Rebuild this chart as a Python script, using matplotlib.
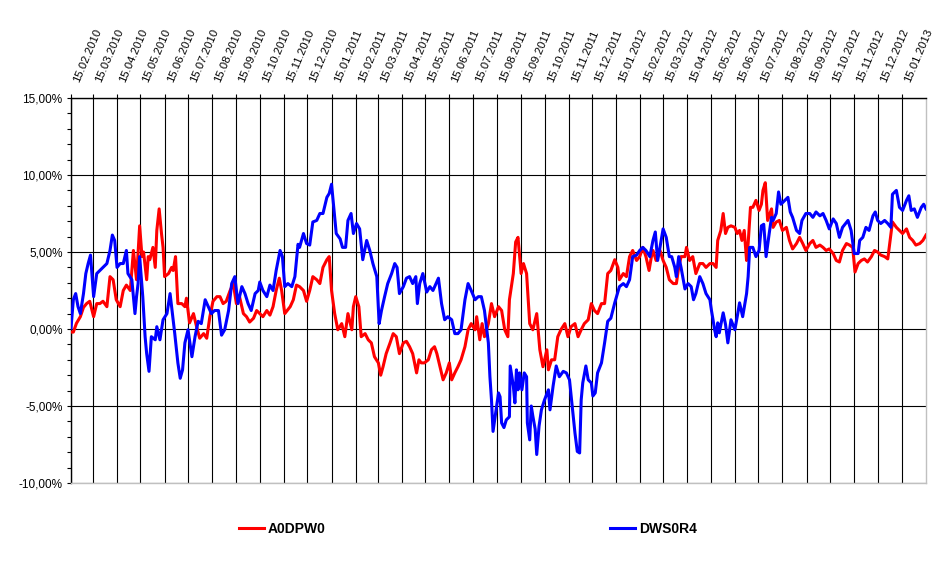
import numpy as np
import pandas as pd
import matplotlib
matplotlib.use("Agg")
import matplotlib.pyplot as plt
import matplotlib.dates as mdates
from matplotlib.ticker import FixedLocator, FuncFormatter, MultipleLocator, NullFormatter
from matplotlib.transforms import ScaledTranslation

plt.rcParams['font.family'] = ['Liberation Sans', 'DejaVu Sans']

# Tage seit 15.02.2010 und Wertentwicklung in %
start = pd.Timestamp('2010-02-15')

red_days = [0, 3, 7, 12, 16, 20, 24, 29, 33, 37, 41, 46, 50, 54, 58, 63, 67, 71, 76, 80,
            84, 88, 91, 93, 97, 99, 101, 105, 108, 110, 113, 116, 118, 120, 125, 129, 131, 134, 137, 142,
            146, 148, 152, 157, 161, 165, 170, 174, 178, 182, 187, 191, 195, 199, 204, 208, 212, 216, 221, 225,
            229, 234, 238, 242, 246, 251, 255, 259, 263, 267, 270, 274, 281, 285, 289, 293, 298, 302, 306, 310,
            315, 319, 323, 328, 331, 334, 338, 342, 347, 351, 355, 360, 362, 365, 369, 372, 377, 381, 385, 389,
            394, 397, 400, 404, 409, 413, 417, 421, 426, 430, 434, 438, 443, 446, 449, 453, 458, 462, 466, 469,
            473, 477, 481, 485, 488, 492, 496, 500, 505, 509, 513, 518, 520, 524, 527, 530, 535, 539, 543, 548,
            552, 556, 560, 562, 567, 570, 573, 577, 580, 584, 588, 592, 597, 601, 605, 610, 612, 616, 620, 624,
            628, 633, 637, 641, 646, 650, 654, 658, 663, 667, 671, 675, 680, 684, 688, 692, 697, 701, 703, 708,
            712, 716, 720, 725, 729, 733, 737, 741, 744, 746, 750, 755, 759, 763, 767, 772, 776, 779, 782, 787,
            789, 793, 797, 801, 806, 810, 814, 819, 823, 827, 829, 833, 836, 839, 842, 846, 851, 854, 857, 860,
            863, 866, 868, 871, 874, 878, 882, 885, 887, 890, 893, 898, 900, 904, 908, 912, 917, 921, 925, 930,
            934, 938, 942, 947, 951, 955, 960, 964, 968, 972, 977, 981, 985, 989, 994, 998, 1002, 1005, 1009, 1013,
            1017, 1021, 1026, 1030, 1034, 1038, 1043, 1047, 1050, 1053, 1058, 1062, 1066, 1071, 1075, 1079, 1083, 1088, 1092, 1096]
red_vals = [-0.2, -0.2, 0.37, 0.8, 1.4, 1.65, 1.8, 0.8, 1.65, 1.65, 1.8, 1.45, 3.4, 3.2, 1.9, 1.45, 2.5, 2.85, 2.5, 5.1,
            3.2, 6.7, 4.7, 5.0, 3.2, 4.7, 4.5, 5.3, 4.0, 6.4, 7.8, 6.2, 5.3, 3.4, 3.6, 4.0, 3.8, 4.7, 1.65, 1.65,
            1.45, 2.0, 0.4, 1.0, 0.15, -0.6, -0.3, -0.6, 0.8, 1.8, 2.1, 2.1, 1.65, 1.8, 2.5, 2.95, 1.65, 2.1, 1.0, 0.8,
            0.45, 0.7, 1.2, 1.0, 0.8, 1.2, 0.9, 1.45, 2.5, 3.3, 2.5, 1.0, 1.45, 1.9, 2.85, 2.75, 2.5, 1.8, 2.5, 3.4,
            3.2, 2.95, 4.0, 4.5, 4.7, 2.5, 1.0, -0.05, 0.35, -0.5, 1.0, -0.05, 1.45, 2.1, 1.45, -0.5, -0.3, -0.7, -0.9, -1.8,
            -2.2, -3.0, -2.45, -1.6, -0.9, -0.3, -0.5, -1.6, -0.9, -0.8, -1.15, -1.6, -2.85, -2.0, -2.2, -2.2, -2.0, -1.35, -1.15, -1.6,
            -2.45, -3.3, -2.85, -2.2, -3.3, -2.85, -2.45, -2.0, -1.15, -0.05, 0.35, -0.05, 0.8, -0.7, 0.35, -0.5, 0.35, 1.65, 0.8, 1.45,
            1.2, -0.05, -0.5, 1.9, 3.6, 5.65, 5.95, 3.6, 4.25, 3.6, 0.35, -0.05, 1.0, -1.35, -2.45, -1.35, -2.65, -2.0, -2.0, -0.5,
            -0.05, 0.35, -0.5, 0.15, 0.35, -0.5, -0.05, 0.35, 0.6, 1.65, 1.2, 1.0, 1.65, 1.65, 3.6, 3.8, 4.5, 4.0, 3.2, 3.6,
            3.4, 4.7, 5.1, 4.45, 4.7, 5.3, 4.7, 3.8, 4.7, 5.1, 4.45, 5.1, 4.45, 4.0, 3.2, 2.95, 2.95, 4.0, 4.7, 4.7,
            5.3, 4.45, 4.7, 3.6, 4.25, 4.25, 4.0, 4.25, 4.25, 4.0, 5.75, 6.4, 7.5, 6.2, 6.6, 6.7, 6.6, 6.2, 6.4, 5.75,
            6.4, 4.45, 5.55, 7.9, 7.9, 8.35, 7.7, 8.1, 9.0, 9.5, 7.05, 7.8, 6.6, 6.95, 7.05, 6.4, 6.6, 5.75, 5.2, 5.55,
            5.95, 5.55, 5.1, 5.55, 5.75, 5.3, 5.45, 5.3, 5.1, 5.2, 4.9, 4.45, 4.35, 5.1, 5.55, 5.45, 5.3, 3.7, 4.25, 4.45,
            4.55, 4.35, 4.7, 5.1, 5.0, 4.8, 4.7, 4.55, 5.75, 6.95, 6.6, 6.4, 6.2, 6.5, 5.95, 5.75, 5.45, 5.55, 5.75, 6.1]

blue_days = [0, 3, 6, 9, 12, 16, 19, 22, 25, 29, 33, 37, 41, 46, 50, 53, 56, 59, 63, 67,
             71, 73, 78, 82, 84, 86, 88, 92, 95, 97, 100, 103, 108, 110, 114, 118, 123, 127, 130, 133,
             137, 140, 143, 146, 150, 155, 159, 163, 167, 172, 176, 180, 184, 189, 193, 197, 202, 206, 210, 214,
             219, 223, 227, 231, 236, 240, 242, 246, 251, 255, 259, 263, 268, 271, 274, 278, 283, 287, 291, 293,
             298, 302, 306, 310, 315, 319, 323, 328, 331, 334, 338, 340, 345, 348, 352, 355, 359, 362, 366, 370,
             374, 379, 383, 387, 392, 395, 398, 402, 406, 411, 415, 418, 421, 426, 430, 434, 438, 442, 444, 447,
             451, 456, 460, 464, 468, 471, 475, 479, 483, 488, 492, 496, 500, 505, 509, 513, 518, 522, 526, 530,
             535, 537, 539, 541, 545, 548, 550, 552, 555, 558, 562, 563, 567, 569, 571, 573, 575, 578, 581, 584,
             585, 588, 590, 592, 595, 597, 600, 603, 607, 612, 614, 618, 622, 626, 631, 635, 639, 643, 646, 649,
             652, 654, 656, 660, 663, 667, 669, 672, 675, 680, 684, 688, 692, 697, 703, 708, 712, 716, 720, 725,
             729, 733, 737, 742, 746, 749, 752, 755, 759, 763, 767, 770, 774, 776, 779, 782, 787, 791, 795, 798,
             801, 806, 810, 814, 819, 821, 823, 825, 827, 829, 831, 836, 839, 842, 846, 851, 854, 857, 861, 866,
             868, 870, 874, 878, 882, 885, 888, 891, 895, 898, 900, 904, 907, 910, 915, 919, 922, 925, 930, 934,
             937, 942, 947, 951, 955, 960, 964, 968, 972, 977, 981, 985, 989, 996, 1000, 1004, 1009, 1011, 1015, 1019,
             1023, 1028, 1031, 1034, 1038, 1043, 1047, 1051, 1053, 1058, 1062, 1066, 1071, 1074, 1077, 1081, 1085, 1090, 1093, 1096]
blue_vals = [0.05, 1.9, 2.3, 1.45, 1.0, 2.3, 3.6, 4.25, 4.8, 2.1, 3.6, 3.8, 4.0, 4.25, 5.1, 6.1, 5.75, 4.0, 4.25, 4.25,
             5.1, 3.6, 3.2, 1.0, 2.1, 2.95, 4.7, 2.1, -0.5, -1.6, -2.75, -0.5, -0.7, 0.15, -0.7, 0.6, 1.0, 2.3, 1.0, -0.3,
             -2.2, -3.2, -2.65, -0.9, -0.05, -1.8, -0.5, 0.5, 0.35, 1.9, 1.45, 1.0, 1.2, 1.2, -0.4, -0.05, 1.2, 2.95, 3.4, 1.65,
             2.75, 2.3, 1.65, 1.2, 2.3, 2.5, 3.05, 2.5, 2.1, 2.85, 2.5, 3.8, 5.1, 4.7, 2.75, 2.95, 2.75, 3.4, 5.5, 5.3,
             6.2, 5.55, 5.45, 6.95, 7.05, 7.5, 7.5, 8.55, 8.8, 9.4, 7.25, 6.2, 5.85, 5.3, 5.3, 7.05, 7.5, 6.2, 6.85, 6.5,
             4.5, 5.75, 5.1, 4.25, 3.4, 0.35, 1.2, 2.1, 2.95, 3.6, 4.25, 4.0, 2.3, 2.75, 3.3, 3.4, 2.95, 3.4, 1.65, 2.95,
             3.6, 2.4, 2.75, 2.5, 2.95, 3.3, 1.65, 0.6, 0.8, 0.6, -0.3, -0.3, -0.05, 1.9, 2.95, 2.5, 1.9, 2.1, 2.1, 1.2,
             -0.9, -3.1, -4.6, -6.65, -5.25, -4.15, -4.4, -6.1, -6.4, -5.9, -5.7, -2.4, -3.7, -4.8, -2.65, -3.95, -2.85, -3.95, -2.85, -3.1,
             -6.1, -7.2, -5.0, -5.65, -6.5, -8.15, -6.3, -5.25, -4.6, -3.95, -5.25, -3.7, -2.4, -3.1, -2.75, -2.85, -3.3, -5.25, -6.75, -7.95,
             -8.05, -4.6, -3.5, -2.4, -3.3, -3.5, -4.35, -4.15, -2.85, -2.2, -0.9, 0.5, 0.7, 1.7, 2.75, 2.95, 2.75, 3.2, 4.7, 4.8,
             5.1, 5.3, 5.1, 4.7, 5.75, 6.3, 4.45, 5.3, 6.5, 5.95, 4.7, 4.7, 4.0, 3.4, 4.7, 4.0, 2.6, 2.95, 2.75, 1.9,
             2.3, 3.4, 2.95, 2.3, 1.9, 1.2, 0.6, -0.05, -0.5, 0.4, -0.25, 1.05, 0.3, -0.9, 0.6, -0.05, 0.8, 1.7, 0.8, 2.3,
             3.4, 5.3, 5.3, 4.7, 5.1, 6.7, 6.8, 4.7, 6.2, 7.25, 7.05, 7.5, 8.9, 8.1, 8.35, 8.55, 7.6, 7.25, 6.4, 6.2,
             7.05, 7.5, 7.5, 7.25, 7.6, 7.35, 7.5, 7.05, 6.5, 7.15, 6.85, 5.95, 6.6, 7.05, 6.4, 4.9, 4.9, 5.75, 5.95, 6.6,
             6.4, 7.35, 7.6, 7.05, 6.85, 7.05, 6.85, 6.6, 8.75, 9.0, 7.9, 7.7, 8.35, 8.65, 7.7, 7.8, 7.25, 7.9, 8.1, 7.8]

series_names = ['A0DPW0', 'DWS0R4']

red_dates = start + pd.to_timedelta(red_days, unit='D')
blue_dates = start + pd.to_timedelta(blue_days, unit='D')
# Gitterlinien jeweils am 15. des Monats
tick_dates = pd.date_range('2010-02-01', '2013-01-01', freq='MS') + pd.Timedelta(days=14)

fig = plt.figure(figsize=(9.51, 5.75), dpi=100)
ax = fig.add_axes([71 / 951, 1 - 483 / 575, 855 / 951, 385 / 575])

ax.plot(red_dates, red_vals, color='#FF0000', lw=2.2, label=series_names[0], zorder=3)
ax.plot(blue_dates, blue_vals, color='#0000FF', lw=2.2, label=series_names[1], zorder=3)

ax.set_xlim(start, pd.Timestamp('2013-02-15'))
ax.set_ylim(-10, 15)

ax.xaxis.set_major_locator(FixedLocator(mdates.date2num(tick_dates)))
ax.xaxis.set_major_formatter(NullFormatter())
ax.xaxis.tick_top()
ax.tick_params(axis='x', which='major', length=3, width=0.8)

# Datumsbeschriftung oben, schraeg gestellt
offset = ScaledTranslation(10 / 100, 14 / 100, fig.dpi_scale_trans)
for d in tick_dates:
    ax.text(d, 1.0, d.strftime('%d.%m.%Y'), transform=ax.get_xaxis_transform() + offset,
            rotation=67, rotation_mode='anchor', ha='left', va='bottom', fontsize=8.2)

ax.yaxis.set_major_locator(MultipleLocator(5))
ax.yaxis.set_minor_locator(MultipleLocator(1))
ax.yaxis.set_major_formatter(FuncFormatter(lambda v, p: f'{v:.2f}%'.replace('.', ',')))
ax.tick_params(axis='y', which='both', length=3, width=0.8, pad=3, labelsize=8.5)

ax.grid(True, which='major', color='black', lw=0.8)
ax.set_axisbelow(True)

ax.spines['left'].set_color('black')
ax.spines['top'].set_color('black')
ax.spines['bottom'].set_color('#C0C0C0')
ax.spines['right'].set_color('#C0C0C0')
for s in ax.spines.values():
    s.set_linewidth(1.0)

fig.legend(loc='center', bbox_to_anchor=(468 / 951, 1 - 529 / 575), ncol=2, frameon=False,
           prop={'weight': 'bold', 'size': 10}, handlelength=1.8, handletextpad=0.3,
           columnspacing=20.5)

fig.savefig('out.png', dpi=100)
